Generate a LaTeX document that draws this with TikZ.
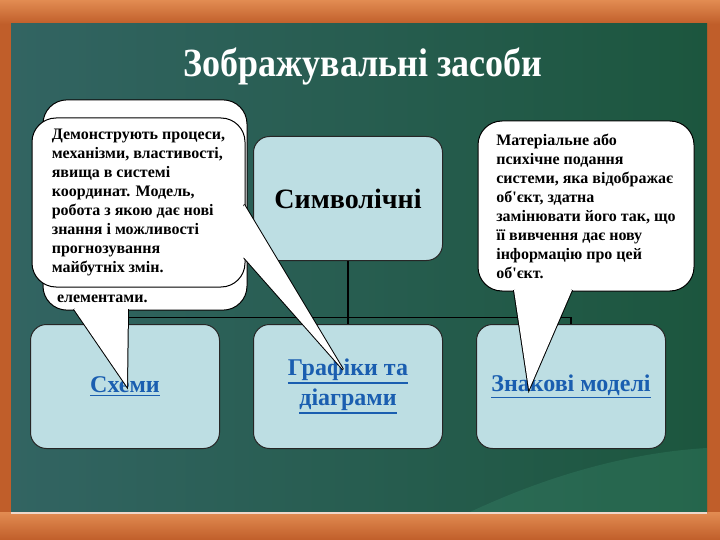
\documentclass[tikz,border=0pt]{standalone}
\usepackage{fontspec}
\setmainfont{Liberation Serif}
\usetikzlibrary{positioning, calc}
\definecolor{wooddark}{RGB}{192,94,42}
\definecolor{woodlight}{RGB}{226,140,82}
\definecolor{boardteal}{RGB}{50,100,98}
\definecolor{boardmid}{RGB}{38,92,80}
\definecolor{boardgreen}{RGB}{28,86,62}
\definecolor{boardlight}{RGB}{60,140,110}
\definecolor{boxblue}{RGB}{189,222,227}
\definecolor{linkblue}{RGB}{26,94,176}
\newcommand{\linktext}[1]{\leavevmode\vtop{\hbox{#1}\kern1.5pt\hrule height 1.6pt}}
\newcommand{\apos}{{\addfontfeature{Mapping=}\char"27}}

\begin{document}
\begin{tikzpicture}[
    x=1pt, y=-1pt,
    node distance=63pt and 33pt,
    heading/.style={text=white, font=\bfseries\fontsize{40}{46}\selectfont},
    catbox/.style={draw=black!85, line width=1pt, fill=boxblue, rounded corners=16pt, minimum width=189pt, minimum height=124pt, align=center},
    linklabel/.style={text=linkblue, font=\bfseries\fontsize{24}{30}\selectfont},
    note/.style={draw=black, line width=1pt, fill=white, rounded corners=24pt, align=left, inner sep=7pt, font=\bfseries\fontsize{16}{19}\selectfont},
    pointer/.style={draw=black, line width=2pt, line join=miter},
    trunk/.style={draw=black, line width=1.4pt}
]
\useasboundingbox (0,0) rectangle (720,540);

% Frame and board
\fill[wooddark] (0,0) rectangle (720,540);
\shade[top color=woodlight, bottom color=wooddark] (0,0) rectangle (720,24);
\shade[top color=woodlight, bottom color=wooddark] (0,512) rectangle (720,540);
\shade[left color=boardteal, middle color=boardmid, right color=boardgreen] (11,24) rectangle (707,512);
\fill[boardlight, opacity=.3] (470,512) .. controls (560,470) and (640,452) .. (707,448) -- (707,512) -- cycle;
\draw[white!75!wooddark, line width=2pt] (11,513) -- (707,513);

% Title
\node[heading] (Title) at (363,67) {\scalebox{0.9}[1]{Зображувальні засоби}};

% Categories
\node[catbox, font=\bfseries\fontsize{28}{32}\selectfont] (Symbolic) at (348,198.5) {Символічні};
\node[catbox, linklabel, below=63pt of Symbolic] (Graphs) {\linktext{Графіки та}\\\linktext{діаграми}};
\node[catbox, linklabel, left=33pt of Graphs] (Schemes) {\linktext{Схеми}};
\node[catbox, linklabel, right=33pt of Graphs] (SignModels) {\linktext{Знакові моделі}};

% Connections
\coordinate (Fork) at ($(Symbolic.south)!0.9!(Graphs.north)$);
\draw[trunk] (Symbolic.south) -- (Fork);
\foreach \target in {Schemes, Graphs, SignModels}
    \draw[trunk] (Fork) -| (\target.north);

% Notes
\node[note, minimum width=204pt, minimum height=210pt] (NoteElem) at (145,205) {\parbox[b][196pt][b]{176pt}{елементами.}};
\coordinate (TipSchemes) at ($(Schemes.center)+(2,0)$);
\draw[pointer] ($(NoteElem.south)+(-71,-1.5)$) -- (TipSchemes) -- ($(NoteElem.south)+(-17,-1.5)$);
\fill[white] ($(NoteElem.south)+(-71,-1.5)$) -- (TipSchemes) -- ($(NoteElem.south)+(-17,-1.5)$) -- cycle;

\node[note, minimum width=213pt, minimum height=169pt] (NoteDemo) at (138.5,202.5) {
    Демонструють процеси,\\
    механізми, властивості,\\
    явища в системі\\
    координат. Модель,\\
    робота з якою дає нові\\
    знання і можливості\\
    прогнозування\\
    майбутніх змін.
};
\coordinate (TipGraphs) at ($(Graphs.center)+(-5,-17)$);
\draw[pointer] ($(NoteDemo.east)+(-1.5,2)$) -- (TipGraphs) -- ($(NoteDemo.east)+(-1.5,55)$);
\fill[white] ($(NoteDemo.east)+(-1.5,2)$) -- (TipGraphs) -- ($(NoteDemo.east)+(-1.5,55)$) -- cycle;

\node[note, minimum width=216pt, minimum height=170pt] (NoteModel) at (586,206) {
    Матеріальне або\\
    психічне подання\\
    системи, яка відображає\\
    об\apos єкт, здатна\\
    замінювати його так, що\\
    її вивчення дає нову\\
    інформацію про цей\\
    об\apos єкт.
};
\coordinate (TipSigns) at ($(SignModels.center)+(-42,3)$);
\draw[pointer] ($(NoteModel.south)+(-72,-1.5)$) -- (TipSigns) -- ($(NoteModel.south)+(-14,-1.5)$);
\fill[white] ($(NoteModel.south)+(-72,-1.5)$) -- (TipSigns) -- ($(NoteModel.south)+(-14,-1.5)$) -- cycle;

\end{tikzpicture}
\end{document}
